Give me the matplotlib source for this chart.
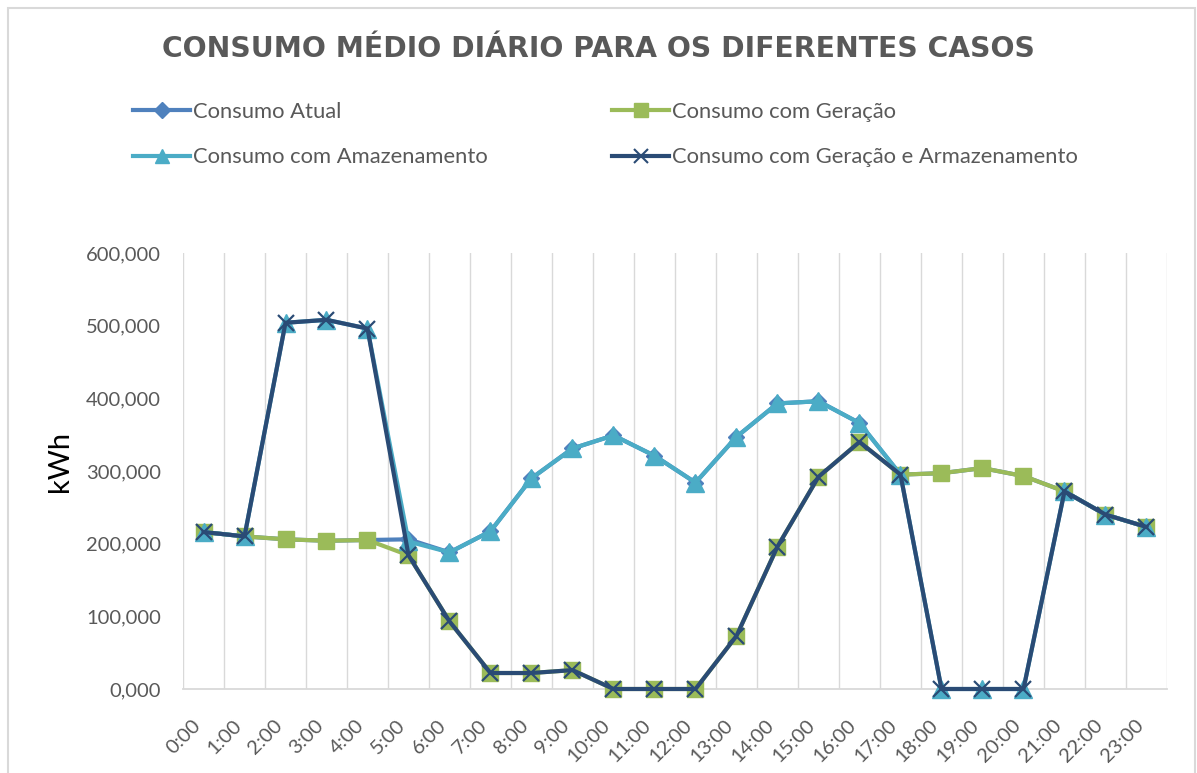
import matplotlib
matplotlib.use("Agg")
import matplotlib.pyplot as plt
from matplotlib.lines import Line2D
from matplotlib.patches import Rectangle
import numpy as np

plt.rcParams['font.family'] = ['Lato', 'DejaVu Sans']

hours = ["0:00", "1:00", "2:00", "3:00", "4:00", "5:00", "6:00", "7:00",
         "8:00", "9:00", "10:00", "11:00", "12:00", "13:00", "14:00", "15:00",
         "16:00", "17:00", "18:00", "19:00", "20:00", "21:00", "22:00", "23:00"]

consumo_atual = [216, 210, 206, 204, 205, 206, 188, 217, 290, 331, 349, 321,
                 284, 347, 393, 396, 366, 295, 297, 304, 293, 272, 240, 223]
consumo_geracao = [216, 210, 206, 204, 205, 184, 93, 22, 22, 26, 0, 0,
                   0, 73, 196, 292, 340, 295, 297, 304, 293, 272, 240, 223]
consumo_armazenamento = [216, 210, 504, 508, 496, 203, 188, 217, 290, 331, 349, 321,
                         284, 347, 393, 396, 366, 295, 0, 0, 0, 272, 240, 223]
consumo_ger_arm = [216, 210, 504, 508, 496, 184, 93, 22, 22, 26, 0, 0,
                   0, 73, 196, 292, 340, 295, 0, 0, 0, 272, 240, 223]

y_ticks = [0, 100, 200, 300, 400, 500, 600]

labels = ["Consumo Atual", "Consumo com Geração",
          "Consumo com Amazenamento", "Consumo com Geração e Armazenamento"]

C_ATUAL = "#4F81BD"
C_GER = "#9BBB59"
C_ARM = "#4BACC6"
C_GA = "#2A4B75"
GRID = "#D9D9D9"
TXT = "#595959"

W, H = 1197, 773
fig = plt.figure(figsize=(W / 100, H / 100), dpi=100)
fig.patch.set_facecolor("white")

# chart border
fig.patches.append(Rectangle((8 / W, -0.02), (1195 - 8) / W, 1 - 8 / H + 0.02,
                             transform=fig.transFigure, fill=False,
                             edgecolor=GRID, linewidth=1.5))

left, right, top, bottom = 183, 1167, 253, 689
ax = fig.add_axes([left / W, 1 - bottom / H, (right - left) / W, (bottom - top) / H])

x = np.arange(len(hours))

# category separators
for b in np.arange(len(hours) + 1) - 0.5:
    ax.axvline(b, color=GRID, linewidth=1.0, zorder=0)

lw = 3.0
common = dict(lw=lw, clip_on=False, solid_joinstyle="round")
ax.plot(x, consumo_atual, color=C_ATUAL, marker="D", markersize=8, zorder=3, **common)
ax.plot(x, consumo_geracao, color=C_GER, marker="s", markersize=12, zorder=4, **common)
ax.plot(x, consumo_armazenamento, color=C_ARM, marker="^", markersize=13, zorder=5, **common)
ax.plot(x, consumo_ger_arm, color=C_GA, marker="x", markersize=12,
        markeredgewidth=1.6, zorder=6, **common)

ax.set_xlim(-0.5, len(hours) - 0.5)
ax.set_ylim(y_ticks[0], y_ticks[-1])
ax.set_yticks(y_ticks)
ax.set_yticklabels([f"{v:.3f}".replace(".", ",") for v in y_ticks])
ax.set_xticks(x)
ax.set_xticklabels(hours, rotation=45, ha="right", rotation_mode="default")
ax.tick_params(axis="both", length=0, colors=TXT, labelsize=14.5)
ax.tick_params(axis="y", pad=16)
ax.tick_params(axis="x", pad=20)

for s in ("top", "right", "left"):
    ax.spines[s].set_visible(False)
ax.spines["bottom"].set_color(GRID)
ax.spines["bottom"].set_linewidth(1.3)

ax.set_ylabel("kWh", fontsize=21, color="black")
ax.yaxis.set_label_coords((73 - left) / (right - left), (bottom - 461) / (bottom - top))

fig.text(0.5, 1 - 49 / H, "CONSUMO MÉDIO DIÁRIO PARA OS DIFERENTES CASOS",
         ha="center", va="center", fontsize=20.3, fontweight="bold", color=TXT,
         family=["DejaVu Sans"])

leg_kw = dict(frameon=False, loc="upper left", borderpad=0, borderaxespad=0,
              handlelength=2.6, handletextpad=0.14, labelspacing=1.15,
              fontsize=15.8, labelcolor=TXT)


def handle(color, marker, ms, mew=1.0):
    return Line2D([], [], color=color, lw=lw, marker=marker, markersize=ms,
                  markeredgewidth=mew)


leg1 = fig.legend([handle(C_ATUAL, "D", 8), handle(C_ARM, "^", 10)],
                  [labels[0], labels[2]], bbox_to_anchor=(133 / W, 1 - 102 / H), **leg_kw)
leg2 = fig.legend([handle(C_GER, "s", 10), handle(C_GA, "x", 10, 1.5)],
                  [labels[1], labels[3]], bbox_to_anchor=(612 / W, 1 - 102 / H), **leg_kw)

fig.savefig("out.png", dpi=100, facecolor="white")
